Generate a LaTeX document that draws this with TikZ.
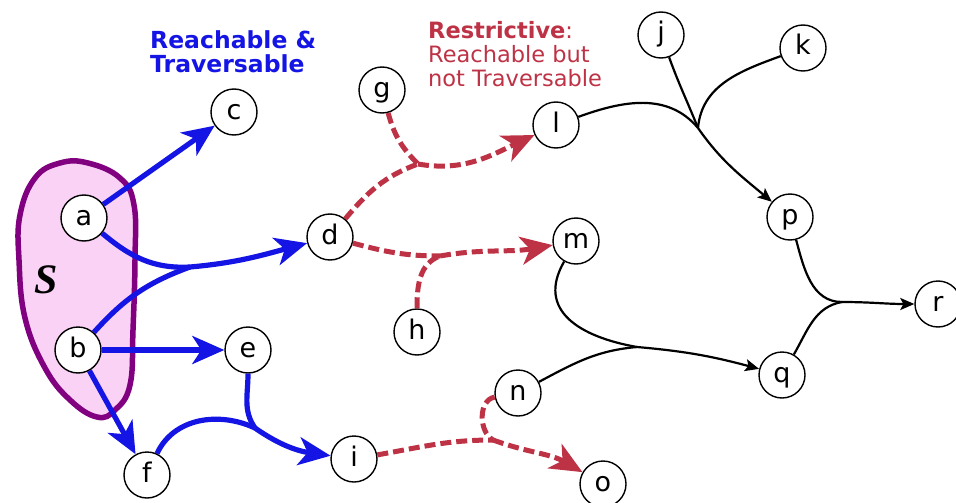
\documentclass[tikz,border=0pt]{standalone}
\usepackage{fontspec}
\setmainfont{DejaVu Sans}
\newfontfamily\setlabelfont{Liberation Serif}
\usetikzlibrary{arrows.meta}
\definecolor{reachblue}{RGB}{20,20,228}
\definecolor{restrictred}{RGB}{190,50,70}
\definecolor{setpurple}{RGB}{128,0,128}
\definecolor{setpink}{RGB}{250,210,245}

\begin{document}
\begin{tikzpicture}[x=1pt,y=1pt,
  vertex/.style={circle,draw=black,line width=1.4pt,fill=white,minimum size=46pt,
    inner sep=0pt,text height=19pt,text depth=5pt,font=\fontsize{27}{27}\selectfont},
  trav/.style={draw=reachblue,line width=5.2pt},
  travarrow/.style={trav,-{Stealth[length=32pt,width=28pt,inset=9pt]}},
  restr/.style={draw=restrictred,line width=5pt,dash pattern=on 11pt off 5pt},
  restrarrow/.style={restr,-{Stealth[length=32pt,width=28pt,inset=9pt]}},
  plain/.style={draw=black,line width=2.2pt},
  plainarrow/.style={plain,-{Stealth[length=14pt,width=12pt,inset=3pt]}},
]
\useasboundingbox (0,0) rectangle (956,-503);

% the source set S
\draw[draw=setpurple,fill=setpink,line width=5.5pt]
  plot[smooth cycle,tension=0.7] coordinates {
    (88,-163) (120,-178) (134,-205) (135,-260) (133,-330) (130,-385)
    (115,-410) (97,-417) (70,-400) (45,-368) (25,-318) (19,-260)
    (20,-215) (35,-178) (60,-163)};
\node (setlabel) at (46,-280) {\fontsize{42}{42}\setlabelfont\bfseries\itshape S};

% legends
\node[anchor=north west,align=left,inner sep=0pt,text=reachblue,
  font=\fontsize{23.5}{23.5}\selectfont\bfseries] (legendtrav) at (150,-30.5)
  {Reachable \&\\Traversable};
\node[anchor=north west,align=left,inner sep=0pt,text=restrictred,
  font=\fontsize{22.5}{24}\selectfont] (legendrestr) at (428,-21.5)
  {\textbf{Restrictive}:\\Reachable but\\not Traversable};

% vertices
\node[vertex] (a) at (84,-218) {a};
\node[vertex] (b) at (78,-350) {b};
\node[vertex] (c) at (234,-112) {c};
\node[vertex] (d) at (330,-237) {d};
\node[vertex] (e) at (248,-350) {e};
\node[vertex] (f) at (147,-475) {f};
\node[vertex] (g) at (382,-90) {g};
\node[vertex] (h) at (417,-332) {h};
\node[vertex] (i) at (354,-459) {i};
\node[vertex] (j) at (661,-35) {j};
\node[vertex] (k) at (803,-48) {k};
\node[vertex] (l) at (556,-125) {l};
\node[vertex] (m) at (576,-241) {m};
\node[vertex] (n) at (518,-393) {n};
\node[vertex] (o) at (603,-484) {o};
\node[vertex] (p) at (790,-217) {p};
\node[vertex] (q) at (782,-375) {q};
\node[vertex] (r) at (938,-304) {r};

% junctions of the hyperedges
\coordinate (jab) at (190,-267);
\coordinate (jef) at (255,-428);
\coordinate (jdg) at (418,-164);
\coordinate (jdh) at (440,-256);
\coordinate (jin) at (493,-440);
\coordinate (jjkl) at (698,-128);
\coordinate (jmn) at (637,-347);
\coordinate (jpq) at (842,-302);

% reachable and traversable
\draw[travarrow] (a) -- (c);
\draw[trav] (a) to[out=-40,in=183] (jab);
\draw[trav] (b) to[out=48,in=200] (jab);
\draw[travarrow] (jab) to[out=5,in=195] (d);
\draw[travarrow] (b) -- (e);
\draw[travarrow] (b) -- (f);
\draw[trav] (e) to[out=-90,in=125] (jef);
\draw[trav] (f) to[out=65,in=155] (jef);
\draw[travarrow] (jef) to[out=-35,in=172] (i);

% restrictive
\draw[restr] (d) to[out=50,in=200] (jdg);
\draw[restr] (g) to[out=-75,in=135] (jdg);
\draw[restrarrow] (jdg) to[out=-10,in=205] (l);
\draw[restr] (d) to[out=-15,in=180] (jdh);
\draw[restr] (h) to[out=90,in=200] (jdh);
\draw[restrarrow] (jdh) to[out=10,in=190] (m);
\draw[restr] (i) to[out=10,in=180] (jin);
\draw[restr] (n) to[out=190,in=150] (jin);
\draw[restrarrow] (jin) to[out=-20,in=150] (o);

% remaining hyperedges
\draw[plain] (l) to[out=20,in=130] (jjkl);
\draw[plain] (j) to[out=-70,in=112] (jjkl);
\draw[plain] (k) to[out=200,in=85] (jjkl);
\draw[plainarrow] (jjkl) to[out=-55,in=140] (p);
\draw[plain] (m) to[out=-120,in=170,looseness=1.3] (jmn);
\draw[plain] (n) to[out=28,in=185] (jmn);
\draw[plainarrow] (jmn) to[out=-5,in=165] (q);
\draw[plain] (p) to[out=-75,in=180] (jpq);
\draw[plain] (q) to[out=60,in=190] (jpq);
\draw[plainarrow] (jpq) to[out=0,in=180] (r);
\end{tikzpicture}
\end{document}
